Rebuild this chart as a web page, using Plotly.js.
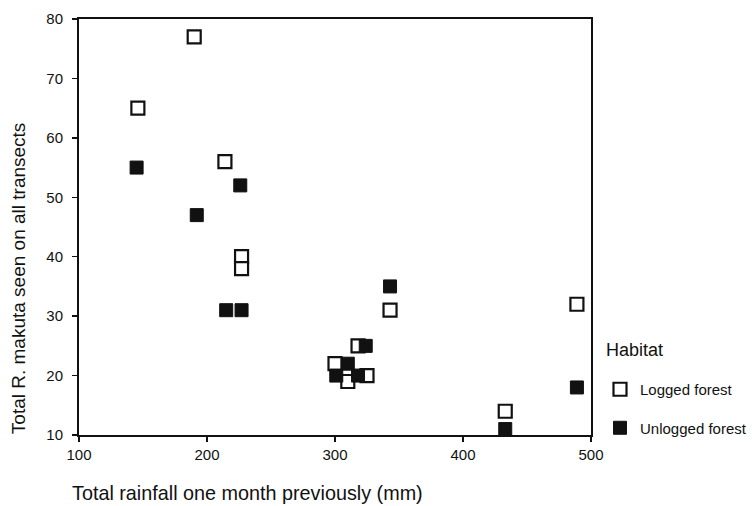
<!DOCTYPE html>
<html>
<head>
<meta charset="utf-8">
<script src="https://cdn.plot.ly/plotly-3.0.1.min.js"></script>
<style>html,body{margin:0;padding:0;background:#fff;}#chart{width:752px;height:506px;}</style>
</head>
<body>
<div id="chart"></div>
<script>
// Data
const loggedX = [190, 146, 214, 227, 227, 343, 489, 433, 300, 310, 318, 325];
const loggedY = [77, 65, 56, 40, 38, 31, 32, 14, 22, 19, 25, 20];
const unloggedX = [145, 192, 226, 215, 227, 343, 489, 433, 301, 310, 318, 324];
const unloggedY = [55, 47, 52, 31, 31, 35, 18, 11, 20, 22, 20, 25];
const seriesNames = ["Logged forest", "Unlogged forest"];
const legendTitle = "Habitat";
const xTitle = "Total rainfall one month previously (mm)";
const yTitle = "Total R. makuta seen on all transects";
const xTicks = [100, 200, 300, 400, 500];
const yTicks = [10, 20, 30, 40, 50, 60, 70, 80];

const FONT = '"Liberation Sans", Arial, sans-serif';

// paper spans x = 79 .. 752 px (673 px); plot occupies 79 .. 591 px
const PW = 673;
const px = v => (v - 79) / PW;

const traces = [
  {
    x: loggedX, y: loggedY, type: 'scatter', mode: 'markers', name: seriesNames[0],
    legendgroup: 'a',
    marker: {symbol: 'square', size: 13, color: '#ffffff', line: {color: '#111111', width: 2.2}}
  },
  {
    x: unloggedX, y: unloggedY, type: 'scatter', mode: 'markers', name: seriesNames[1],
    legendgroup: 'b',
    marker: {symbol: 'square', size: 13, color: '#111111', line: {color: '#111111', width: 1}}
  }
];

const axisCommon = {
  showgrid: false, zeroline: false, showline: true, mirror: true,
  linecolor: '#111111', linewidth: 2,
  ticks: 'outside', ticklen: 5, tickwidth: 1.5, tickcolor: '#111111',
  tickfont: {family: FONT, size: 15, color: '#111111'}
};

const layout = {
  width: 752, height: 506,
  margin: {l: 79, r: 0, t: 19, b: 71},
  paper_bgcolor: '#ffffff', plot_bgcolor: '#ffffff',
  font: {family: FONT, color: '#111111'},
  showlegend: true,
  xaxis: Object.assign({}, axisCommon, {range: [100, 500], tickvals: xTicks, domain: [0, 512 / PW]}),
  yaxis: Object.assign({}, axisCommon, {range: [10, 80], tickvals: yTicks, ticklabelstandoff: 6}),
  legend: {
    x: px(600), xanchor: 'left', y: 0.149, yanchor: 'top',
    font: {family: FONT, size: 15, color: '#111111'},
    traceorder: 'grouped', tracegroupgap: 16,
    bgcolor: 'rgba(0,0,0,0)'
  },
  annotations: [
    {text: xTitle, xref: 'paper', yref: 'paper', x: px(247), y: -0.139,
     xanchor: 'center', yanchor: 'middle', showarrow: false,
     font: {family: FONT, size: 19.8, color: '#111111'}},
    {text: yTitle, xref: 'paper', yref: 'paper', x: px(18), y: 0.377,
     xanchor: 'center', yanchor: 'middle', showarrow: false, textangle: -90,
     font: {family: FONT, size: 19, color: '#111111'}},
    {text: legendTitle, xref: 'paper', yref: 'paper', x: px(604), y: 0.204,
     xanchor: 'left', yanchor: 'middle', showarrow: false,
     font: {family: FONT, size: 18, color: '#111111'}}
  ]
};

Plotly.newPlot('chart', traces, layout, {displayModeBar: false, staticPlot: true});
</script>
</body>
</html>
